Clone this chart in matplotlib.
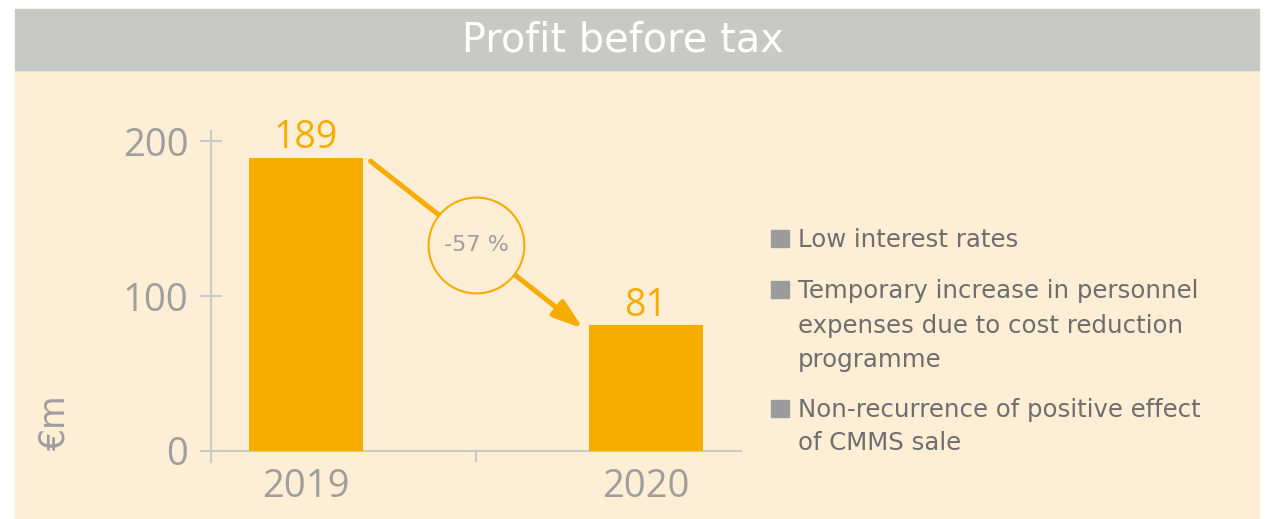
import matplotlib
matplotlib.use("Agg")
import matplotlib.pyplot as plt
from matplotlib.patches import Rectangle

# --- data ---
years = ["2019", "2020"]
profit = [189, 81]
change_label = "-57 %"
y_ticks = [0, 100, 200]
drivers = [
    ["Low interest rates"],
    ["Temporary increase in personnel", "expenses due to cost reduction", "programme"],
    ["Non-recurrence of positive effect", "of CMMS sale"],
]

# --- style ---
ORANGE = "#F7AC00"
BEIGE = "#FEEED6"
HEADER = "#C8C8C6"
AXIS = "#C9C9C9"
LABEL = "#9E9E9E"
TEXT = "#6E6E6E"
NUM_FONT = ["Open Sans", "DejaVu Sans"]   # digits
TXT_FONT = ["DejaVu Sans"]                # wider humanist face for words

plt.rcParams["font.family"] = NUM_FONT

W, H = 1269, 519
fig = plt.figure(figsize=(W / 100, H / 100), dpi=100)


def fx(px):
    return px / W


def fy(py):
    return 1 - py / H


# panel background + header strip (behind the axes)
fig.patches.append(Rectangle((fx(15), fy(518)), fx(1259) - fx(15), fy(70) - fy(518),
                             transform=fig.transFigure, color=BEIGE, zorder=-10))
fig.patches.append(Rectangle((fx(15), fy(70)), fx(1259) - fx(15), fy(9) - fy(70),
                             transform=fig.transFigure, color=HEADER, zorder=-10))
fig.text(fx(623), fy(52), "Profit before tax", color="white", fontsize=28.7,
         ha="center", va="baseline", family=TXT_FONT)

ax = fig.add_axes([fx(211), fy(462), fx(741) - fx(211), fy(131) - fy(462)])
ax.set_facecolor("none")
ax.set_zorder(1)

x = list(range(len(years)))
ax.bar(x, profit, width=0.335, color=ORANGE, zorder=3)
for xi, v in zip(x, profit):
    ax.annotate(str(v), (xi, v), xytext=(0, 7), textcoords="offset points",
                ha="center", va="baseline", color=ORANGE, fontsize=27)

ax.set_xlim(-0.2794, 1.2794)
ax.set_ylim(-7.1, 206.5)

for side in ["top", "right"]:
    ax.spines[side].set_visible(False)
ax.spines["bottom"].set_position(("data", 0))
for side in ["left", "bottom"]:
    ax.spines[side].set_color(AXIS)
    ax.spines[side].set_linewidth(1.5)

ax.set_yticks(y_ticks)
ax.set_yticklabels([str(t) for t in y_ticks])
ax.tick_params(axis="y", direction="inout", length=16.5, width=1.5, color=AXIS,
               labelcolor=LABEL, labelsize=27.5, pad=8)
ax.set_xticks(x)
ax.set_xticklabels(years)
ax.tick_params(axis="x", length=0, labelcolor=LABEL, labelsize=27.5, pad=12)
ax.set_xticks([0.5], minor=True)
ax.tick_params(axis="x", which="minor", direction="out", length=8, width=1.5, color=AXIS)

# change arrow with circled percentage
ax.annotate("", xy=(0.815, 79), xytext=(0.19, 187),
            arrowprops=dict(arrowstyle="-|>,head_length=0.9,head_width=0.3",
                            mutation_scale=20, lw=3.6, color=ORANGE,
                            shrinkA=0, shrinkB=0), zorder=4)
ax.plot([0.5], [133], marker="o", markersize=69, markerfacecolor=BEIGE,
        markeredgecolor=ORANGE, markeredgewidth=1.5, zorder=5, clip_on=False)
ax.text(0.5, 133, change_label, ha="center", va="center", color=LABEL,
        fontsize=16, zorder=6, family=TXT_FONT)

fig.text(fx(55), fy(423), "€m", rotation=90, ha="center", va="center",
         color=LABEL, fontsize=25, family=TXT_FONT)

# drivers list on the right
baselines = [[247], [298, 333, 367], [417, 450]]
for lines, bls in zip(drivers, baselines):
    fig.patches.append(Rectangle((fx(771), fy(bls[0])), fx(789) - fx(771), fy(bls[0] - 17) - fy(bls[0]),
                                 transform=fig.transFigure, color="#9B9B9B", zorder=2))
    for line, bl in zip(lines, bls):
        fig.text(fx(798), fy(bl), line, color=TEXT, fontsize=17.6, va="baseline",
                 family=TXT_FONT)

fig.savefig("out.png", dpi=100, facecolor="white")
